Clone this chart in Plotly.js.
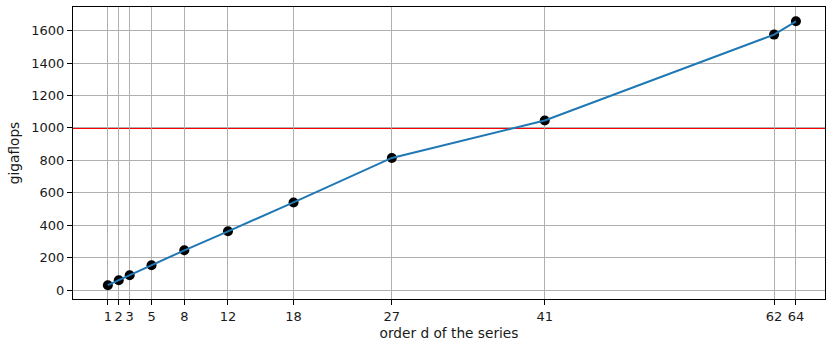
<!DOCTYPE html>
<html>
<head>
<meta charset="utf-8">
<script src="https://cdn.plot.ly/plotly-3.0.1.min.js"></script>
<style>html,body{margin:0;padding:0;background:#fff;}#chart{width:826px;height:341px;}</style>
</head>
<body>
<div id="chart"></div>
<script>
const orders = [1, 2, 3, 5, 8, 12, 18, 27, 41, 62, 64];
const gigaflops = [31, 62, 92, 154, 246, 363, 541, 815, 1046, 1575, 1657];
const xTickLabels = ['1', '2', '3', '5', '8', '12', '18', '27', '41', '62', '64'];
const yTicks = [0, 200, 400, 600, 800, 1000, 1200, 1400, 1600];
const threshold = 1000;

const font = {family: 'DejaVu Sans, sans-serif', size: 13, color: '#1a1a1a'};
const titleFont = {family: 'DejaVu Sans, sans-serif', size: 13.7, color: '#1a1a1a'};

const traces = [
  {
    x: orders, y: gigaflops, mode: 'markers', type: 'scatter',
    marker: {color: '#000000', size: 10},
    hoverinfo: 'skip', showlegend: false
  },
  {
    x: orders, y: gigaflops, mode: 'lines', type: 'scatter',
    line: {color: '#1f77b4', width: 2},
    hoverinfo: 'skip', showlegend: false
  }
];

const layout = {
  width: 826, height: 341,
  margin: {l: 73, r: 1, t: 7, b: 42, pad: 0},
  paper_bgcolor: '#ffffff', plot_bgcolor: '#ffffff',
  font: font,
  showlegend: false,
  xaxis: {
    range: [-2.19, 66.66],
    tickmode: 'array', tickvals: orders, ticktext: xTickLabels,
    tickangle: 0,
    showgrid: true, gridcolor: '#b0b0b0', gridwidth: 1,
    zeroline: false,
    showline: true, linecolor: '#000000', linewidth: 1, mirror: true,
    ticks: 'outside', ticklen: 5, tickwidth: 1, tickcolor: '#000000',
    tickfont: font,
    title: {text: 'order d of the series', font: titleFont, standoff: 6}
  },
  yaxis: {
    range: [-54, 1745],
    tickmode: 'array', tickvals: yTicks,
    showgrid: true, gridcolor: '#b0b0b0', gridwidth: 1,
    zeroline: false,
    showline: true, linecolor: '#000000', linewidth: 1, mirror: true,
    ticks: 'outside', ticklen: 5, tickwidth: 1, tickcolor: '#000000',
    tickfont: font,
    title: {text: 'gigaflops', font: titleFont, standoff: 8}
  },
  shapes: [
    {
      type: 'line', xref: 'paper', x0: 0, x1: 1, yref: 'y', y0: threshold, y1: threshold,
      line: {color: '#ff0000', width: 2}, layer: 'below'
    }
  ]
};

Plotly.newPlot('chart', traces, layout, {displayModeBar: false, staticPlot: true});
</script>
</body>
</html>
